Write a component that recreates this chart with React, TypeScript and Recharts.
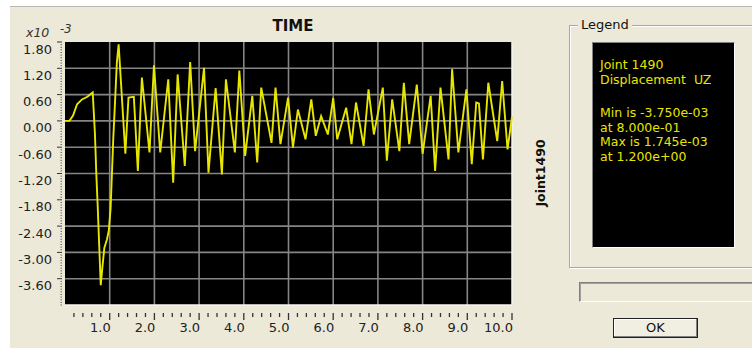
import { LineChart, Line, XAxis, YAxis, CartesianGrid, ReferenceLine } from 'recharts'

// time (s) and joint 1490 UZ displacement (x10^-3), turning points
const times = [
  0, 0.1, 0.18, 0.27, 0.38, 0.5, 0.62, 0.67, 0.7, 0.73, 0.76, 0.8, 0.84, 0.88, 0.94, 0.98, 1.02, 1.05, 1.08, 1.12,
  1.16, 1.2, 1.35, 1.42, 1.54, 1.63, 1.72, 1.89, 1.99, 2.13, 2.31, 2.42, 2.52, 2.68, 2.8, 2.91, 3.11, 3.21, 3.37, 3.51,
  3.6, 3.8, 3.9, 4.03, 4.19, 4.3, 4.39, 4.62, 4.71, 4.82, 4.99, 5.1, 5.21, 5.38, 5.51, 5.61, 5.73, 5.88, 6.0, 6.09,
  6.29, 6.41, 6.51, 6.68, 6.79, 6.91, 7.11, 7.2, 7.32, 7.48, 7.58, 7.7, 7.87, 8.0, 8.18, 8.28, 8.4, 8.58, 8.66, 8.8,
  8.98, 9.1, 9.2, 9.26, 9.35, 9.47, 9.67, 9.78, 9.9, 10.0,
]
const displacement = [
  0, 0, 0.12, 0.38, 0.49, 0.55, 0.65, -0.3, -1.2, -1.9, -2.7, -3.75, -3.3, -2.9, -2.7, -2.5, -2.0, -1.2, -0.4, 0.45,
  1.33, 1.745, -0.75, 0.53, 0.55, -1.14, 0.99, -0.72, 1.27, -0.72, 0.95, -1.41, 1.06, -1.03, 1.34, -0.69, 1.21, -1.18, 0.75, -1.22,
  0.95, -0.72, 1.15, -0.8, 0.57, -0.95, 0.76, -0.5, 0.76, -0.53, 0.53, -0.61, 0.26, -0.42, 0.49, -0.34, 0.11, -0.31, 0.52, -0.42,
  0.3, -0.53, 0.42, -0.57, 0.72, -0.31, 0.76, -0.91, 0.49, -0.69, 0.87, -0.53, 0.83, -0.75, 0.57, -1.14, 0.76, -0.88, 1.18, -0.72,
  0.72, -0.99, 0.42, 0.4, -0.88, 0.87, -0.46, 0.91, -0.65, 0.1,
]

const yMajor = [-4.2, -3.6, -3.0, -2.4, -1.8, -1.2, -0.6, 0, 0.6, 1.2, 1.8]
const yLabels = [-3.6, -3.0, -2.4, -1.8, -1.2, -0.6, 0, 0.6, 1.2, 1.8]
const xMajor = [1, 2, 3, 4, 5, 6, 7, 8, 9, 10]
const xGrid = [1, 2, 3, 4, 5, 6, 7, 8, 9]
const yGrid = [-3.6, -3.0, -2.4, -1.8, -1.2, -0.6, 0, 0.6, 1.2]

const legendLines = ['Joint 1490', 'Displacement  UZ', '', 'Min is -3.750e-03', 'at 8.000e-01', 'Max is 1.745e-03', 'at 1.200e+00']

const chartData = times.map((t, i) => ({ t, uz: displacement[i] }))

// minor ticks: 10 per y interval, 5 per x interval
const yTicks: number[] = []
yMajor.forEach((v, i) => {
  yTicks.push(v)
  if (i < yMajor.length - 1) for (let k = 1; k < 10; k++) yTicks.push(+(v + (k * 0.6) / 10).toFixed(3))
})
const xTicks: number[] = []
xMajor.forEach((v) => {
  for (let k = 1; k < 5; k++) xTicks.push(+(v - 1 + k * 0.2).toFixed(2))
  xTicks.push(v)
})

const FONT = '"DejaVu Sans", sans-serif'
const BEIGE = '#ece9d8'
const YELLOW = '#e6e600'
const GRID = '#858585'

const isIn = (arr: number[], v: number) => arr.some((m) => Math.abs(m - v) < 1e-6)

function YTick({ x, y, payload }: any) {
  const major = isIn(yLabels, payload.value)
  return (
    <g>
      <line x1={major ? x - 8 : x - 4.5} x2={x - 3} y1={y} y2={y} stroke={major ? '#333' : '#666'} strokeWidth={1} />
      {major && (
        <text x={x - 13} y={y} dy={11.5} textAnchor="end" fontFamily={FONT} fontSize={13} fill="#222">
          {payload.value.toFixed(2)}
        </text>
      )}
    </g>
  )
}

function XTick({ x, y, payload }: any) {
  const major = isIn(xMajor, payload.value)
  return (
    <g>
      <line x1={x} x2={x} y1={y + 8} y2={major ? y + 15 : y + 12} stroke="#333" strokeWidth={1.3} />
      {major && (
        <text x={x + 1} y={y} dy={27} textAnchor="end" fontFamily={FONT} fontSize={13} fill="#222">
          {payload.value.toFixed(1)}
        </text>
      )}
    </g>
  )
}

export default function App() {
  return (
    <div style={{ position: 'fixed', left: 0, top: 0, width: 752, height: 348, background: '#fff', overflow: 'hidden' }}>
      <div style={{ position: 'absolute', left: 10, top: 6, right: 0, bottom: 0, background: BEIGE, borderTop: '1px solid #b8b8b0' }} />
      <div style={{ position: 'absolute', left: 0, top: 0 }}>
        <LineChart width={752} height={348} data={chartData} margin={{ top: 42, right: 240, left: 0, bottom: 0 }}>
          <CartesianGrid fill="#000" horizontal={false} vertical={false} />
          <XAxis
            dataKey="t"
            type="number"
            domain={[0, 10]}
            ticks={xTicks}
            interval={0}
            height={43}
            tickSize={0}
            tickMargin={0}
            axisLine={false}
            tickLine={false}
            tick={<XTick />}
          />
          <YAxis
            type="number"
            domain={[-4.2, 1.8]}
            ticks={yTicks}
            interval={0}
            width={65}
            tickSize={0}
            tickMargin={0}
            axisLine={false}
            tickLine={false}
            tick={<YTick />}
          />
          {yGrid.map((v) => (
            <ReferenceLine key={'y' + v} y={v} stroke={GRID} strokeWidth={1.6} />
          ))}
          {xGrid.map((v) => (
            <ReferenceLine key={'x' + v} x={v} stroke={GRID} strokeWidth={1.6} />
          ))}
          <ReferenceLine x={10} stroke="#f4f4f4" strokeWidth={1.5} />
          <ReferenceLine y={-4.2} stroke="#f4f4f4" strokeWidth={1.5} />
          <Line type="linear" dataKey="uz" stroke={YELLOW} strokeWidth={1.9} dot={false} isAnimationActive={false} />
          <text x={293} y={31} textAnchor="middle" fontFamily={FONT} fontWeight="bold" fontSize={15} fill="#111">TIME</text>
          <text x={26} y={37} fontFamily={FONT} fontStyle="italic" fontSize={12.5} fill="#333">x10</text>
          <text x={60} y={33} fontFamily={FONT} fontStyle="italic" fontSize={11.5} fill="#333">-3</text>
          <text
            x={540}
            y={173}
            transform="rotate(-90 540 173)"
            dy={4.5}
            textAnchor="middle"
            fontFamily={FONT}
            fontWeight="bold"
            fontSize={12.5}
            fill="#111"
          >
            Joint1490
          </text>
        </LineChart>
      </div>

      {/* legend group box */}
      <div
        style={{
          position: 'absolute', left: 569, top: 25, width: 200, height: 241,
          border: '1px solid #aca899', boxShadow: 'inset 1px 1px 0 #fff, 1px 1px 0 #fff',
        }}
      />
      <div style={{ position: 'absolute', left: 578, top: 17, padding: '0 3px', background: BEIGE, fontFamily: FONT, fontSize: 13, color: '#111' }}>
        Legend
      </div>
      <div
        style={{
          position: 'absolute', left: 592, top: 42, width: 141, height: 204, background: '#000',
          borderTop: '1px solid #808080', borderLeft: '1px solid #808080', borderBottom: '1px solid #fff', borderRight: '1px solid #fff',
        }}
      />
      {legendLines.map((s, i) => (
        <div
          key={i}
          style={{
            position: 'absolute', left: 600, top: i < 3 ? 57 + i * 15 : 105 + (i - 3) * 14.6,
            fontFamily: FONT, fontSize: 12.5, lineHeight: '15px', color: YELLOW, whiteSpace: 'pre',
          }}
        >
          {s}
        </div>
      ))}

      {/* status field */}
      <div
        style={{
          position: 'absolute', left: 579, top: 282, width: 200, height: 18,
          borderTop: '1px solid #808080', borderLeft: '1px solid #808080', borderBottom: '1px solid #fff', borderRight: '1px solid #fff',
          boxShadow: 'inset 1px 1px 0 #a0a0a0',
        }}
      />

      {/* OK button */}
      <div
        style={{
          position: 'absolute', left: 613, top: 318, width: 83, height: 18, background: '#f1efe2',
          border: '1px solid #222', boxShadow: 'inset -1px -1px 0 #808080, inset 1px 1px 0 #fff',
          fontFamily: FONT, fontSize: 13, lineHeight: '18px', textAlign: 'center', color: '#111',
        }}
      >
        OK
      </div>
    </div>
  )
}
